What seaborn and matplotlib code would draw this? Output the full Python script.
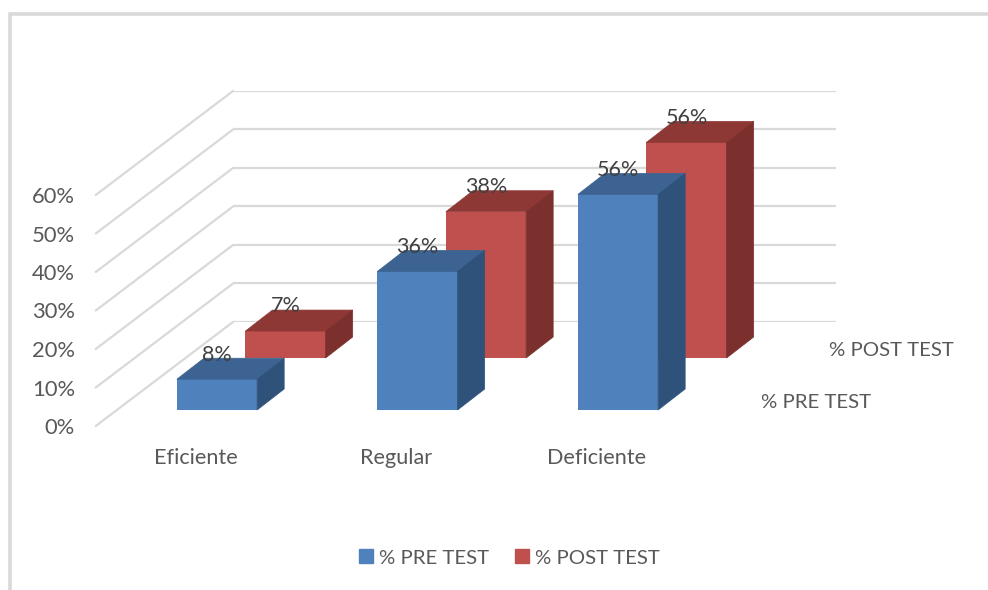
import matplotlib
matplotlib.use('Agg')
import matplotlib.pyplot as plt
import seaborn as sns
from matplotlib.patches import ConnectionPatch, Patch, Polygon, Rectangle

categories = ['Eficiente', 'Regular', 'Deficiente']
pre_test = [8, 36, 56]
post_test = [7, 38, 56]
y_ticks = [0, 10, 20, 30, 40, 50, 60]
series_names = ['% PRE TEST', '% POST TEST']

W, H = 988, 590
GRID = '#D9D9D9'
TEXT = '#595959'
LABEL = '#404040'
BLUE = ('#4F81BD', '#3C6391', '#2F527B')
RED = ('#C0504D', '#8E3836', '#7C302E')
DEPTH_X = 0.135
DEPTH_Y = 5.45

sns.set_theme(style='white')
plt.rcParams['font.family'] = ['Lato', 'DejaVu Sans']

fig = plt.figure(figsize=(W / 100, H / 100), dpi=100)


def box(left, top, right, bottom, z):
    # axes placed by pixel edges of the picture
    return fig.add_axes([left / W, 1 - bottom / H, (right - left) / W, (bottom - top) / H], zorder=z)


def bars_3d(ax, values, colors):
    sns.barplot(x=categories, y=values, color=colors[0], saturation=1, width=0.4, linewidth=0, ax=ax)
    ax.set_xlim(-0.5, 2.5)
    ax.set_ylim(0, 60)
    ax.axis('off')
    container = ax.containers[0]
    for bar in container:
        x0, x1, h = bar.get_x(), bar.get_x() + bar.get_width(), bar.get_height()
        top = [(x0, h), (x1, h), (x1 + DEPTH_X, h + DEPTH_Y), (x0 + DEPTH_X, h + DEPTH_Y)]
        side = [(x1, 0), (x1, h), (x1 + DEPTH_X, h + DEPTH_Y), (x1 + DEPTH_X, DEPTH_Y)]
        # thin edge in the same colour closes the seam against the front face
        ax.add_patch(Polygon(top, color=colors[1], lw=0.5, clip_on=False))
        ax.add_patch(Polygon(side, color=colors[2], lw=0.5, clip_on=False))
    ax.bar_label(container, labels=[f'{v}%' for v in values], padding=10.5,
                 fontsize=15.5, color=LABEL, zorder=10)


# back wall with the horizontal gridlines
ax_back = box(233, 91, 836, 322, 1)
ax_back.set_ylim(0, 60)
ax_back.set_yticks(y_ticks)
ax_back.set_xticks([])
ax_back.tick_params(left=False, labelleft=False)
ax_back.grid(axis='y', color=GRID, lw=1.6)
sns.despine(ax=ax_back, left=True, bottom=True)

# front edge, holds the axis labels
ax_wall = box(95.75, 195, 697.25, 426, 1.5)
ax_wall.patch.set_visible(False)
ax_wall.set_xlim(-0.5, 2.5)
ax_wall.set_ylim(0, 60)
ax_wall.set_xticks(range(len(categories)), categories)
ax_wall.set_yticks(y_ticks, [f'{v}%' for v in y_ticks])
ax_wall.tick_params(axis='y', length=0, labelsize=15.8, labelcolor=TEXT, pad=15)
ax_wall.tick_params(axis='x', length=0, labelsize=15.6, labelcolor=TEXT, pad=15.5)
sns.despine(ax=ax_wall, left=True, bottom=True)

# side wall, one slanted line per tick
for v in y_ticks:
    line = ConnectionPatch((0, v), (0, v), coordsA=ax_wall.get_yaxis_transform(),
                           coordsB=ax_back.get_yaxis_transform(), color=GRID, lw=1.6, zorder=1.2)
    fig.add_artist(line)

ax_post = box(185.25, 127, 786.75, 358, 2)
bars_3d(ax_post, post_test, RED)
ax_pre = box(116.75, 179, 718.25, 410, 3)
bars_3d(ax_pre, pre_test, BLUE)

# depth axis names
fig.text(891.5 / W, 1 - 350 / H, series_names[1], ha='center', va='center', fontsize=14.7, color=TEXT)
fig.text(816 / W, 1 - 402 / H, series_names[0], ha='center', va='center', fontsize=14.7, color=TEXT)

handles = [Patch(color=BLUE[0], label=series_names[0]), Patch(color=RED[0], label=series_names[1])]
fig.legend(handles=handles, loc='center', bbox_to_anchor=(509.5 / W, 1 - 558 / H), ncol=2, frameon=False,
           fontsize=14.7, labelcolor=TEXT, handlelength=0.68, handleheight=0.68,
           handletextpad=0.3, columnspacing=1.27)

# outer frame, runs off the right and bottom of the picture
fig.add_artist(Rectangle((10 / W, -0.1), 1.2, 1.1 - 13.5 / H, transform=fig.transFigure,
                         fill=False, edgecolor=GRID, lw=2.6))

fig.savefig('out.png', dpi=100)
